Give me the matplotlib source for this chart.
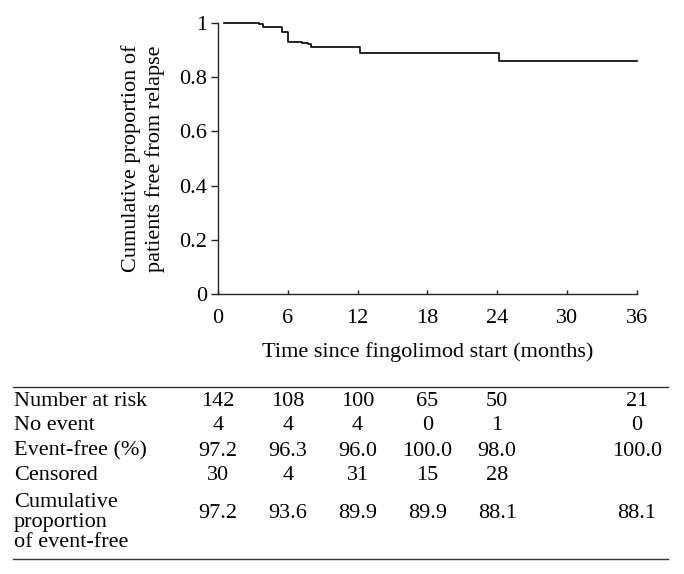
import matplotlib.pyplot as plt
from matplotlib.lines import Line2D
from matplotlib.transforms import blended_transform_factory

plt.rcParams['font.family'] = ['Liberation Serif', 'DejaVu Serif']

# Kaplan-Meier curve
times = [0.5, 3.5, 3.9, 5.5, 6.0, 7.2, 7.7, 8.0, 12.2, 24.2, 36]
survival = [1.0, 0.995, 0.986, 0.967, 0.931, 0.927, 0.923, 0.911, 0.888, 0.861, 0.861]

# table below the chart
table_times = [0, 6, 12, 18, 24, 36]
number_at_risk = ['142', '108', '100', '65', '50', '21']
no_event = ['4', '4', '4', '0', '1', '0']
event_free = ['97.2', '96.3', '96.0', '100.0', '98.0', '100.0']
censored = ['30', '4', '31', '15', '28', '']
cumulative = ['97.2', '93.6', '89.9', '89.9', '88.1', '88.1']

W, H = 684, 574
fs = 16

fig = plt.figure(figsize=(W / 100, H / 100), dpi=100)
ax = fig.add_axes([218 / W, 1 - 294 / H, (636.7 - 218) / W, (294 - 23) / H])

ax.step(times, survival, where='post', color='black', lw=1.2, clip_on=False)

ax.set_xlim(0, 36)
ax.set_ylim(0, 1)
ax.set_xticks([0, 6, 12, 18, 24, 30, 36])
ax.set_yticks([0, 0.2, 0.4, 0.6, 0.8, 1])
ax.set_yticklabels(['0', '0.2', '0.4', '0.6', '0.8', '1'])
ax.spines['top'].set_visible(False)
ax.spines['right'].set_visible(False)
for s in ['left', 'bottom']:
    ax.spines[s].set_color('#222222')
    ax.spines[s].set_linewidth(1.0)
ax.tick_params(axis='y', direction='out', length=5, width=1, pad=3, labelsize=fs, color='#222222')
ax.tick_params(axis='x', direction='in', length=3, width=1, pad=11, labelsize=fs, color='#222222')
ax.set_xlabel('Time since fingolimod start (months)', fontsize=fs, labelpad=10)
ax.set_ylabel('Cumulative proportion of\npatients free from relapse', fontsize=fs,
              labelpad=10, linespacing=1.3)


def fy(py):
    return 1 - py / H


# table rules
for py in [386.7, 559]:
    fig.add_artist(Line2D([13 / W, 668 / W], [fy(py), fy(py)], color='#333333', lw=1.0))

trans = blended_transform_factory(ax.transData, fig.transFigure)

rows = [
    ('Number at risk', number_at_risk, 401),
    ('No event', no_event, 426),
    ('Event-free (%)', event_free, 451),
    ('Censored', censored, 476),
]
for label, values, ry in rows:
    fig.text(14 / W, fy(ry), label, fontsize=fs, ha='left', va='center')
    for t, v in zip(table_times, values):
        fig.text(t, fy(ry), v, fontsize=fs, ha='center', va='center', transform=trans)

fig.text(14 / W, fy(522.5), 'Cumulative\nproportion\nof event-free', fontsize=fs,
         ha='left', va='center', linespacing=1.08)
for t, v in zip(table_times, cumulative):
    fig.text(t, fy(514), v, fontsize=fs, ha='center', va='center', transform=trans)

fig.savefig('out.png', dpi=100)
